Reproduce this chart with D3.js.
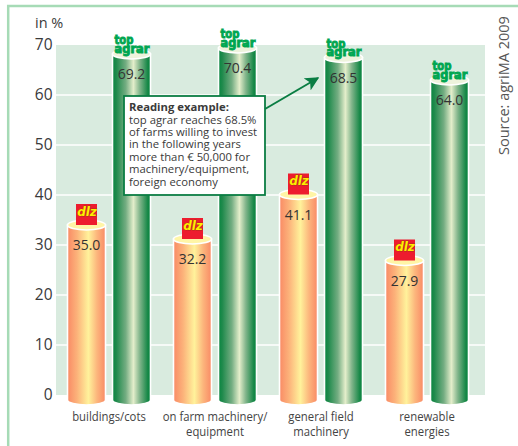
<!DOCTYPE html>
<html><head><meta charset="utf-8">
<script src="https://cdn.jsdelivr.net/npm/d3@7"></script>
<style>html,body{margin:0;padding:0;background:#fff;overflow:hidden}svg{display:block}</style>
</head><body><svg id="c" width="518" height="446"></svg>
<script>
const categories = [["buildings/cots"],["on farm machinery/","equipment"],["general field","machinery"],["renewable","energies"]];
const dlzValues = [35.0,32.2,41.1,27.9];
const topAgrarValues = [69.2,70.4,68.5,64.0];
const yTicks = [0,10,20,30,40,50,60,70];
const seriesNames = ["dlz","top"];
const noteTitle = "Reading example:";
const noteLines = ["top agrar reaches 68.5%","of farms willing to invest","in the following years","more than € 50,000 for","machinery/equipment,","foreign economy"];

const FONT = "'Open Sans','Noto Sans',sans-serif";
const svg = d3.select("#c");
const defs = svg.append("defs");
function grad(id, stops){
  const g = defs.append("linearGradient").attr("id",id).attr("x1","0").attr("x2","1").attr("y1","0").attr("y2","0");
  stops.forEach(s=>g.append("stop").attr("offset",s[0]).attr("stop-color",s[1]));
}
grad("gDlz",[[0,"#f98a65"],[0.25,"#fcb27a"],[0.55,"#fff29b"],[0.78,"#fcb57c"],[1,"#f98a65"]]);
grad("gTop",[[0,"#07853f"],[0.1,"#1f8a4c"],[0.35,"#74ad82"],[0.55,"#e4eecb"],[0.72,"#80b48a"],[0.93,"#158746"],[1,"#07853f"]]);

svg.append("rect").attr("x",8.2).attr("y",6).attr("width",520).attr("height",450).attr("fill","none").attr("stroke","#a6dbb6").attr("stroke-width",2.5);

const y = d3.scaleLinear().domain([0,70]).range([395,45]);
const yBar = d3.scaleLinear().domain([0,70]).range([400,50]);
const x0 = d3.scaleBand().domain(d3.range(categories.length)).range([56,480]);
const x1 = d3.scaleBand().domain(seriesNames).range([8,98]);
const BW = 38, RY = 5;

svg.append("rect").attr("x",56).attr("y",y(70)).attr("width",429).attr("height",y(0)-y(70)).attr("fill","#d9ebdf");
svg.append("g").selectAll("line").data(yTicks.filter(t=>t>0&&t<70)).join("line")
  .attr("x1",56).attr("x2",485).attr("y1",d=>y(d)).attr("y2",d=>y(d)).attr("stroke","#fff").attr("stroke-width",1.6);

const ax = svg.append("g").attr("transform","translate(52.5,0)").call(d3.axisLeft(y).tickValues(yTicks).tickSize(0).tickPadding(0));
ax.select(".domain").remove();
ax.selectAll("text").attr("font-family",FONT).attr("font-size",15.5).attr("fill","#3a3a3a");
svg.append("text").attr("x",35).attr("y",28).attr("font-family",FONT).attr("font-size",14.5).attr("fill","#3a3a3a").text("in %");

function cylinder(g, cx, v, fill, cap){
  const top = yBar(v), bot = yBar(0), r = BW/2;
  g.append("path")
    .attr("d",`M${cx-r},${top}L${cx-r},${bot}A${r},${RY} 0 0 0 ${cx+r},${bot}L${cx+r},${top}Z`)
    .attr("fill",fill).attr("stroke","#fff").attr("stroke-width",1.6);
  g.append("ellipse").attr("cx",cx).attr("cy",top).attr("rx",r).attr("ry",RY)
    .attr("fill",cap).attr("stroke","#fff").attr("stroke-width",1.6);
}
function valueLabel(g,cx,v){
  g.append("text").attr("x",cx).attr("y",yBar(v)+25).attr("text-anchor","middle")
   .attr("font-family",FONT).attr("font-size",14).attr("fill","#333").text(v.toFixed(1));
}
function dlzLogo(g,cx,v){
  const top = yBar(v);
  g.append("rect").attr("x",cx-10.5).attr("y",top-21).attr("width",21).attr("height",21).attr("fill","#ed1c2e");
  g.append("text").attr("x",cx+0.5).attr("y",top-9.5).attr("text-anchor","middle")
   .attr("font-family","'DejaVu Sans',sans-serif").attr("font-weight",700).attr("font-style","italic").attr("font-size",12)
   .attr("fill","#ffee00").attr("stroke","#5a4a00").attr("stroke-width",0.5).attr("paint-order","stroke").text("dlz");
}
function topLogo(g,cx,v){
  const top = yBar(v);
  const t = g.append("text").attr("font-family","'DejaVu Sans',sans-serif").attr("font-weight",700).attr("font-size",11.5)
    .attr("fill","#00a651").attr("stroke","#00a651").attr("stroke-width",0.9);
  t.append("tspan").attr("x",cx-17).attr("y",top-10).attr("textLength",19).attr("lengthAdjust","spacingAndGlyphs").text("top");
  t.append("tspan").attr("x",cx-17).attr("y",top-1.5).attr("textLength",35).attr("lengthAdjust","spacingAndGlyphs").text("agrar");
}

categories.forEach((lines,i)=>{
  const g = svg.append("g");
  const cD = x0(i)+x1("dlz")+x1.bandwidth()/2;
  const cT = x0(i)+x1("top")+x1.bandwidth()/2;
  cylinder(g,cD,dlzValues[i],"url(#gDlz)","#fff5a6");
  cylinder(g,cT,topAgrarValues[i],"url(#gTop)","#eef3dc");
  valueLabel(g,cD,dlzValues[i]);
  valueLabel(g,cT,topAgrarValues[i]);
  dlzLogo(g,cD,dlzValues[i]);
  topLogo(g,cT,topAgrarValues[i]);
  const lab = svg.append("text").attr("transform",`translate(${x0(i)+x0.bandwidth()/2},0) scale(0.84,1)`)
      .attr("text-anchor","middle").attr("font-family",FONT).attr("font-size",13.5).attr("fill","#444");
  lines.forEach((t,k)=>lab.append("tspan").attr("x",0).attr("y",421+k*15).text(t));
});

svg.append("rect").attr("x",124).attr("y",96).attr("width",141).attr("height",99).attr("fill","#fff").attr("stroke","#0a7d43").attr("stroke-width",1.8);
const note = svg.append("text").attr("font-family",FONT).attr("fill","#3a3a3a").attr("font-size",11.3);
note.append("tspan").attr("x",129).attr("y",111).attr("font-weight",700).text(noteTitle);
noteLines.forEach((t,i)=>note.append("tspan").attr("x",129).attr("y",123.5+i*12.4).text(t));

defs.append("marker").attr("id","arr").attr("viewBox","0 0 10 10").attr("refX",9).attr("refY",5)
  .attr("markerWidth",7).attr("markerHeight",7).attr("markerUnits","strokeWidth").attr("orient","auto")
  .append("path").attr("d","M0,0L10,5L0,10L2.5,5Z").attr("fill","#0a7d43");
svg.append("line").attr("x1",265).attr("y1",109).attr("x2",318).attr("y2",78).attr("stroke","#0a7d43").attr("stroke-width",2).attr("marker-end","url(#arr)");

svg.append("text").attr("transform","translate(509,155) rotate(-90)").attr("font-family",FONT).attr("font-size",14.5).attr("fill","#555").text("Source: agriMA 2009");
</script></body></html>
